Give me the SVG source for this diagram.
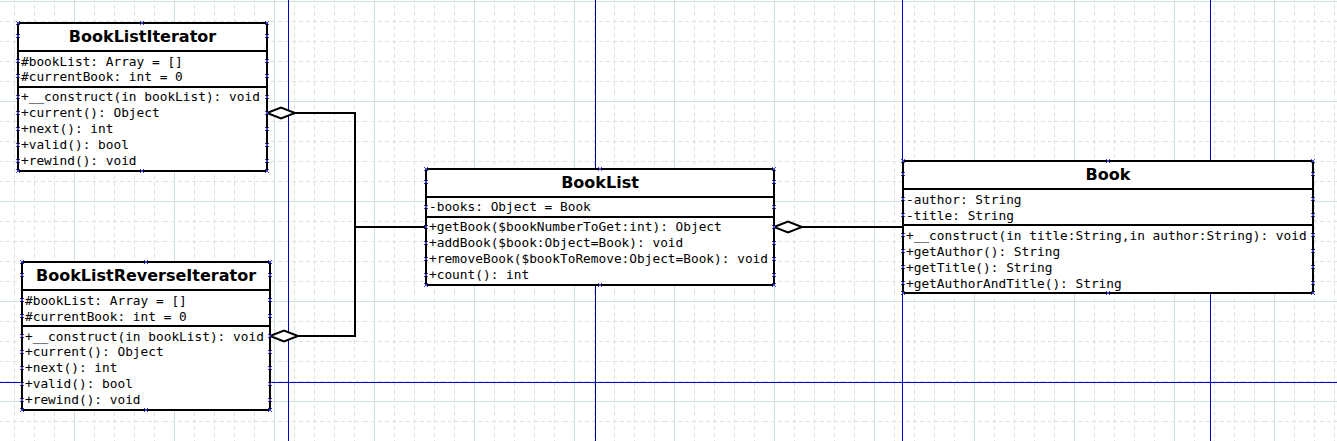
<svg xmlns="http://www.w3.org/2000/svg" xmlns:xlink="http://www.w3.org/1999/xlink" width="1337" height="441" viewBox="0 0 1337 441">
<style>
.box{fill:#fff;stroke:#000;stroke-width:2}
.sep{stroke:#000;stroke-width:2}
.title{font-family:"DejaVu Sans",sans-serif;font-weight:bold;font-size:16px;text-anchor:middle;fill:#000}
.mem{font-family:"DejaVu Sans Mono",monospace;font-size:12.8px;fill:#000}
.conn{fill:none;stroke:#000;stroke-width:2}
.dia{fill:#fff;stroke:#000;stroke-width:2}
.guide{stroke:#0000c8;stroke-width:1}
</style>
<defs>
<pattern id="grid" x="64" y="-9" width="100" height="100" patternUnits="userSpaceOnUse">
<g stroke="#d9e5e3" stroke-width="1" stroke-dasharray="4 3" fill="none">
<path d="M30.5,0V100M50.5,0V100M70.5,0V100M90.5,0V100M0,30.5H100M0,50.5H100M0,70.5H100M0,90.5H100"/>
</g>
<path d="M10.5,0V100M0,10.5H100" stroke="#cfdfdc" stroke-width="1" fill="none"/>
</pattern>
<path id="x" d="M-2,-2L2,2M-2,2L2,-2" stroke="#4040d0" stroke-width="1" fill="none"/>
</defs>
<rect width="1337" height="441" fill="#fff"/>
<rect width="1337" height="441" fill="url(#grid)"/>
<g id="guides">
<path class="guide" d="M288.5,0V441M902.5,0V441M1210.5,0V441M0,382.5H1337"/>
<path d="M595.5,0V441" stroke="#000080" stroke-width="1"/>
</g>
<g id="connectors">
<path class="conn" d="M295,113H355V336H298M355,227H426"/>
<polygon class="dia" points="267,113 281,107.5 295,113 281,118.5"/>
<polygon class="dia" points="270,336 284,330.5 298,336 284,341.5"/>
<path class="conn" d="M802,227H903"/>
<polygon class="dia" points="774,227 788,221.5 802,227 788,232.5"/>
</g>
<g id="BookListIterator">
<rect class="box" x="18" y="23" width="249" height="148"/>
<path class="sep" d="M18,51H267M18,87H267"/>
<text class="title" x="142.5" y="42">BookListIterator</text>
<text class="mem" x="21" y="65.5">#bookList: Array = []</text>
<text class="mem" x="21" y="81">#currentBook: int = 0</text>
<text class="mem" x="21" y="101">+__construct(in bookList): void</text>
<text class="mem" x="21" y="117">+current(): Object</text>
<text class="mem" x="21" y="133">+next(): int</text>
<text class="mem" x="21" y="149">+valid(): bool</text>
<text class="mem" x="21" y="165">+rewind(): void</text>
<g>
<use href="#x" x="18" y="23"/><use href="#x" x="18" y="36"/><use href="#x" x="18" y="61"/><use href="#x" x="18" y="76"/><use href="#x" x="18" y="97"/><use href="#x" x="18" y="113"/><use href="#x" x="18" y="129"/><use href="#x" x="18" y="145"/><use href="#x" x="18" y="161"/><use href="#x" x="18" y="171"/>
<use href="#x" x="267" y="23"/><use href="#x" x="267" y="36"/><use href="#x" x="267" y="61"/><use href="#x" x="267" y="76"/><use href="#x" x="267" y="97"/><use href="#x" x="267" y="113"/><use href="#x" x="267" y="129"/><use href="#x" x="267" y="145"/><use href="#x" x="267" y="161"/><use href="#x" x="267" y="171"/>
<use href="#x" x="142" y="23"/><use href="#x" x="142" y="171"/>
</g>
</g>
<g id="BookListReverseIterator">
<rect class="box" x="22" y="262" width="248" height="148"/>
<path class="sep" d="M22,290H270M22,326H270"/>
<text class="title" x="146" y="281">BookListReverseIterator</text>
<text class="mem" x="25" y="304.5">#bookList: Array = []</text>
<text class="mem" x="25" y="320.5">#currentBook: int = 0</text>
<text class="mem" x="25" y="340.5">+__construct(in bookList): void</text>
<text class="mem" x="25" y="356">+current(): Object</text>
<text class="mem" x="25" y="372">+next(): int</text>
<text class="mem" x="25" y="388">+valid(): bool</text>
<text class="mem" x="25" y="404">+rewind(): void</text>
<g>
<use href="#x" x="22" y="262"/><use href="#x" x="22" y="275"/><use href="#x" x="22" y="300"/><use href="#x" x="22" y="316"/><use href="#x" x="22" y="336"/><use href="#x" x="22" y="352"/><use href="#x" x="22" y="368"/><use href="#x" x="22" y="384"/><use href="#x" x="22" y="400"/><use href="#x" x="22" y="410"/>
<use href="#x" x="270" y="262"/><use href="#x" x="270" y="275"/><use href="#x" x="270" y="300"/><use href="#x" x="270" y="316"/><use href="#x" x="270" y="336"/><use href="#x" x="270" y="352"/><use href="#x" x="270" y="368"/><use href="#x" x="270" y="384"/><use href="#x" x="270" y="400"/><use href="#x" x="270" y="410"/>
<use href="#x" x="146" y="262"/><use href="#x" x="146" y="410"/>
</g>
</g>
<g id="BookList">
<rect class="box" x="426" y="169" width="348" height="116"/>
<path class="sep" d="M426,197H774M426,217H774"/>
<text class="title" x="600" y="188">BookList</text>
<text class="mem" x="429" y="211">-books: Object = Book</text>
<text class="mem" x="429" y="231">+getBook($bookNumberToGet:int): Object</text>
<text class="mem" x="429" y="247">+addBook($book:Object=Book): void</text>
<text class="mem" x="429" y="263">+removeBook($bookToRemove:Object=Book): void</text>
<text class="mem" x="429" y="279">+count(): int</text>
<g>
<use href="#x" x="426" y="169"/><use href="#x" x="426" y="182"/><use href="#x" x="426" y="207"/><use href="#x" x="426" y="227"/><use href="#x" x="426" y="243"/><use href="#x" x="426" y="259"/><use href="#x" x="426" y="275"/><use href="#x" x="426" y="285"/>
<use href="#x" x="774" y="169"/><use href="#x" x="774" y="182"/><use href="#x" x="774" y="207"/><use href="#x" x="774" y="227"/><use href="#x" x="774" y="243"/><use href="#x" x="774" y="259"/><use href="#x" x="774" y="275"/><use href="#x" x="774" y="285"/>
<use href="#x" x="600" y="169"/><use href="#x" x="600" y="285"/>
</g>
</g>
<g id="Book">
<rect class="box" x="903" y="161" width="410" height="132"/>
<path class="sep" d="M903,189H1313M903,225H1313"/>
<text class="title" x="1108" y="180">Book</text>
<text class="mem" x="906" y="203.5">-author: String</text>
<text class="mem" x="906" y="219.5">-title: String</text>
<text class="mem" x="906" y="239.5">+__construct(in title:String,in author:String): void</text>
<text class="mem" x="906" y="255.5">+getAuthor(): String</text>
<text class="mem" x="906" y="271.5">+getTitle(): String</text>
<text class="mem" x="906" y="287.5">+getAuthorAndTitle(): String</text>
<g>
<use href="#x" x="903" y="161"/><use href="#x" x="903" y="174"/><use href="#x" x="903" y="199"/><use href="#x" x="903" y="215"/><use href="#x" x="903" y="235"/><use href="#x" x="903" y="251"/><use href="#x" x="903" y="267"/><use href="#x" x="903" y="283"/><use href="#x" x="903" y="293"/>
<use href="#x" x="1313" y="161"/><use href="#x" x="1313" y="174"/><use href="#x" x="1313" y="199"/><use href="#x" x="1313" y="215"/><use href="#x" x="1313" y="235"/><use href="#x" x="1313" y="251"/><use href="#x" x="1313" y="267"/><use href="#x" x="1313" y="283"/><use href="#x" x="1313" y="293"/>
<use href="#x" x="1108" y="161"/><use href="#x" x="1108" y="293"/>
</g>
</g>
</svg>
